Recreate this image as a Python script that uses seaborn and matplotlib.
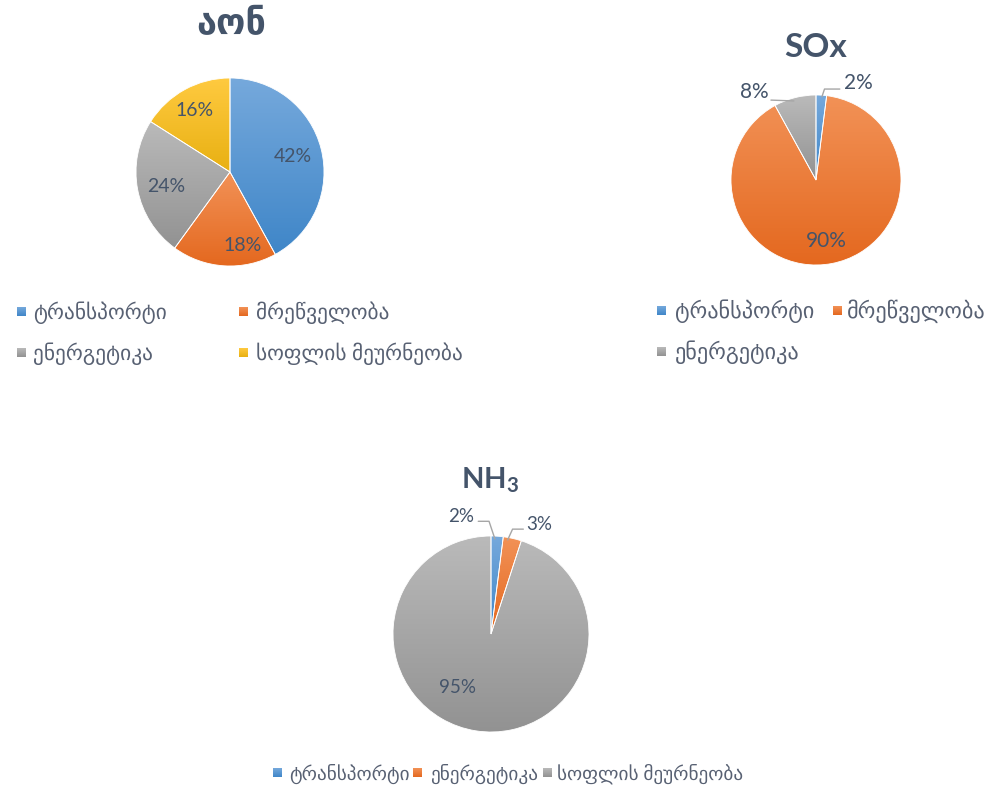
import numpy as np
import matplotlib
matplotlib.use("Agg")
import matplotlib.pyplot as plt
from matplotlib.colors import LinearSegmentedColormap
from matplotlib.patches import Rectangle
import seaborn as sns

sns.set_theme(style="white")
plt.rcParams["font.family"] = ["Lato", "DejaVu Sans"]
plt.rcParams["mathtext.fontset"] = "custom"
plt.rcParams["mathtext.bf"] = "Lato:bold"
plt.rcParams["mathtext.rm"] = "Lato"

# ---- data -------------------------------------------------------------
cat_transport = "ტრანსპორტი"
cat_industry = "მრეწველობა"
cat_energy = "ენერგეტიკა"
cat_agri = "სოფლის მეურნეობა"

voc_title = "აონ"
voc_labels = [cat_transport, cat_industry, cat_energy, cat_agri]
voc_values = [42, 18, 24, 16]

sox_title = "SOx"
sox_labels = [cat_transport, cat_industry, cat_energy]
sox_values = [2, 90, 8]

nh3_title = r"NH$_{\mathbf{3}}$"
nh3_labels = [cat_transport, cat_energy, cat_agri]
nh3_values = [2, 3, 95]

# series colours (top / bottom of the vertical gradient)
base_palette = sns.color_palette(["#5B9BD5", "#ED7D31", "#A5A5A5", "#FFC000"])
grad_top = ["#76A9DC", "#F29257", "#BABABA", "#FFCA40"]
grad_bottom = ["#3F86C8", "#E4681F", "#929292", "#E8B012"]

TITLE_COLOR = "#44546A"
LABEL_COLOR = "#44546A"
LEGEND_COLOR = "#586173"
LEADER_COLOR = "#A6A6A6"

W, H = 992, 789
fig = plt.figure(figsize=(W / 100, H / 100), dpi=100)
fig.patch.set_facecolor("white")

# overlay in pixel units for titles and legends
over = fig.add_axes([0, 0, 1, 1])
over.set_xlim(0, W)
over.set_ylim(H, 0)
over.axis("off")


def gradient_fill(ax, patch, top, bottom, zorder):
    path = patch.get_path().transformed(patch.get_patch_transform())
    ext = path.get_extents()
    x0, y0, x1, y1 = ext.x0, ext.y0, ext.x1, ext.y1
    if ax.yaxis_inverted():
        y0, y1 = y1, y0
    cmap = LinearSegmentedColormap.from_list("g", [bottom, top])
    grad = np.linspace(0, 1, 256).reshape(-1, 1)
    im = ax.imshow(grad, extent=(x0, x1, y0, y1), origin="lower", cmap=cmap,
                   aspect="auto", interpolation="bilinear", zorder=zorder)
    im.set_clip_path(patch)
    return im


def pie_axes(cx, cy, r, span=1.7):
    ax = fig.add_axes([(cx - span * r) / W, (H - cy - span * r) / H,
                       2 * span * r / W, 2 * span * r / H])
    return ax, span


def draw_pie(cx, cy, r, values, label_pos, fontsize, leaders=None):
    ax, span = pie_axes(cx, cy, r)
    wedges, _ = ax.pie(values, colors=base_palette[:len(values)], startangle=90,
                       counterclock=False,
                       wedgeprops=dict(edgecolor="white", linewidth=0.6))
    for i, w in enumerate(wedges):
        gradient_fill(ax, w, grad_top[i], grad_bottom[i], zorder=0.5)
        w.set_facecolor("none")
        w.set_zorder(1)
    for v, (lx, ly) in zip(values, label_pos):
        ax.text(lx, ly, f"{v}%", ha="center", va="center", fontsize=fontsize,
                color=LABEL_COLOR, zorder=3)
    if leaders:
        for pts in leaders:
            xs, ys = zip(*pts)
            ax.plot(xs, ys, color=LEADER_COLOR, lw=1.0, zorder=2)
    ax.set_xlim(-span, span)
    ax.set_ylim(-span, span)
    ax.set_aspect("equal")
    ax.axis("off")
    return ax


def draw_legend(labels, marker_x, text_x, tops, fontsize, size=9):
    for i, lab in enumerate(labels):
        sq = Rectangle((marker_x[i], tops[i]), size, size, facecolor="none",
                       edgecolor="none")
        over.add_patch(sq)
        gradient_fill(over, sq, grad_top[i], grad_bottom[i], zorder=2)
        over.text(text_x[i], tops[i] + size / 2 + 1, lab, ha="left", va="center",
                  fontsize=fontsize, color=LEGEND_COLOR)


# ---- VOC pie ------------------------------------------------------------
over.text(231, 24, voc_title, ha="center", va="center", fontsize=26,
          fontweight="bold", color=TITLE_COLOR)
draw_pie(230, 172, 94, voc_values,
         [(0.67, 0.16), (0.13, -0.78), (-0.68, -0.15), (-0.38, 0.65)], 14)
draw_legend(voc_labels, [17, 239, 17, 239], [33, 256, 33, 256],
            [307, 307, 348, 348], 15.4)

# ---- SOx pie ------------------------------------------------------------
over.text(816, 47, sox_title, ha="center", va="center", fontsize=24,
          fontweight="bold", color=TITLE_COLOR)
draw_pie(816, 180, 85, sox_values,
         [(0.50, 1.14), (0.12, -0.72), (-0.72, 1.03)], 15,
         leaders=[[(0.07, 0.98), (0.10, 1.07), (0.28, 1.07)],
                  [(-0.26, 0.93), (-0.53, 0.94)]])
draw_legend(sox_labels, [657, 833, 657], [675, 847, 675], [306, 306, 347], 16)

# ---- NH3 pie ------------------------------------------------------------
over.text(490, 480, nh3_title, ha="center", va="center", fontsize=21,
          fontweight="bold", color=TITLE_COLOR)
draw_pie(491, 634, 98, nh3_values,
         [(-0.31, 1.20), (0.49, 1.12), (-0.34, -0.55)], 13.5,
         leaders=[[(0.04, 0.97), (-0.02, 1.15), (-0.13, 1.15)],
                  [(0.17, 0.96), (0.22, 1.07), (0.33, 1.07)]])
draw_legend(nh3_labels, [273, 413, 543], [289, 430, 557], [768, 768, 768], 13.9)

fig.savefig("out.png", dpi=100, facecolor="white")
